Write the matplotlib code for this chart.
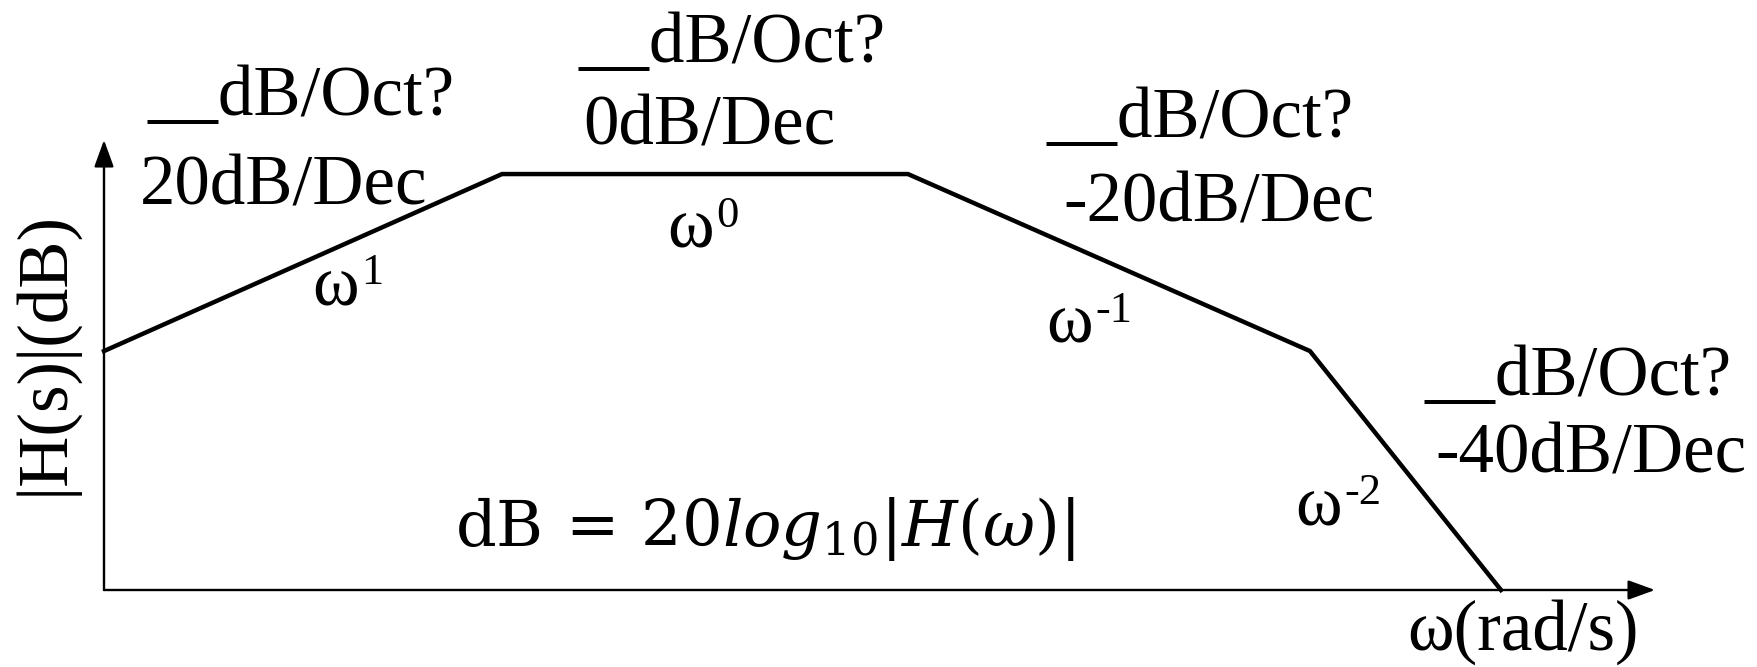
#!/usr/bin/env python3
"""Asymptotic Bode magnitude sketch with slope labels."""

import matplotlib
matplotlib.use("Agg")
import matplotlib.pyplot as plt

plt.rcParams["font.family"] = ["Liberation Serif", "DejaVu Serif"]
plt.rcParams["mathtext.fontset"] = "dejavuserif"

# corner points of the straight-line magnitude plot (x in decades)
decade = [0.0, 1.0, 2.02, 3.03, 3.51]
gain_db = [27.0, 47.0, 47.0, 27.0, 0.0]

# labels for each of the four segments
oct_labels = ["__dB/Oct?", "__dB/Oct?", "__dB/Oct?", "__dB/Oct?"]
dec_labels = ["20dB/Dec", "0dB/Dec", "-20dB/Dec", "-40dB/Dec"]
powers = ["1", "0", "-1", "-2"]

W, H = 1758, 667

# label anchors in image pixels (left, baseline)
oct_pos = [(148, 115), (579, 62), (1047, 137), (1425, 395)]
dec_pos = [(140, 204), (583, 144), (1063, 222), (1435, 472)]
pow_pos = [(312, 305), (667, 248), (1046, 343), (1295, 525)]


def px(x, y):
    return x / W, 1 - y / H


def main():
    fig = plt.figure(figsize=(W / 100, H / 100), dpi=100)
    ax = fig.add_axes([0, 0, 1, 1])
    # 1 decade = 398 px, 1 dB = 8.85 px, origin at (104, 590)
    ax.set_xlim(-104 / 398, (W - 104) / 398)
    ax.set_ylim(-(H - 590) / 8.85, 590 / 8.85)
    ax.axis("off")

    # axes with arrow heads
    arr = dict(arrowstyle="-|>,head_length=0.55,head_width=0.2",
               lw=1.7, color="black", mutation_scale=30,
               shrinkA=0, shrinkB=0)
    ax.annotate("", xy=(0, (590 - 140) / 8.85), xytext=(0, 0), arrowprops=arr)
    ax.annotate("", xy=((1655 - 104) / 398, 0), xytext=(0, 0), arrowprops=arr)

    ax.plot(decade, gain_db, color="black", lw=3.2, solid_joinstyle="miter")

    fs = 51
    for txt, (x, y) in zip(oct_labels, oct_pos):
        fig.text(*px(x, y), txt, fontsize=fs, ha="left", va="baseline")
    for txt, (x, y) in zip(dec_labels, dec_pos):
        fig.text(*px(x, y), txt, fontsize=fs, ha="left", va="baseline")

    # omega with a small raised exponent placed right after it
    for p, (x, y) in zip(powers, pow_pos):
        w = fig.text(*px(x, y), "ω", fontsize=fs, ha="left", va="baseline")
        ax.annotate(p, xy=(1, H - y + 21), xycoords=(w, "figure pixels"),
                    xytext=(3, 0), textcoords="offset pixels",
                    fontsize=32, ha="left", va="baseline")

    fig.text(*px(455, 546), r"$\mathrm{dB}\,=\,20log_{10}|H(\omega)|$",
             fontsize=46, ha="left", va="baseline")
    fig.text(*px(1407, 650), "ω(rad/s)", fontsize=fs,
             ha="left", va="baseline")
    fig.text(*px(45, 353), "|H(s)|(dB)", fontsize=fs, rotation=90,
             ha="center", va="center")

    fig.savefig("out.png", dpi=100, facecolor="white")


if __name__ == "__main__":
    main()
